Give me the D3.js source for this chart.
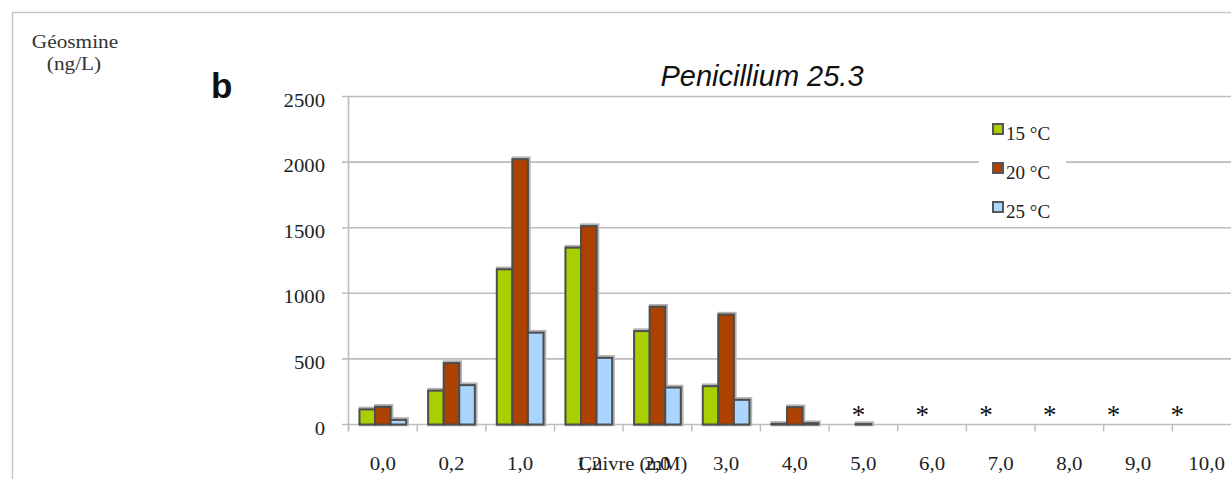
<!DOCTYPE html>
<html><head><meta charset="utf-8">
<script src="https://cdn.jsdelivr.net/npm/d3@7"></script>
<style>body{margin:0;background:#fff;overflow:hidden}</style>
</head><body><svg id="c" width="1231" height="479"></svg>
<script>
const categories = ["0,0","0,2","1,0","1,2","2,0","3,0","4,0","5,0","6,0","7,0","8,0","9,0","10,0"];
const seriesNames = ["15 °C","20 °C","25 °C"];
const values15 = [115,258,1183,1348,712,292,5,0,0,0,0,0,0];
const values20 = [135,468,2022,1512,898,838,132,3,0,0,0,0,0];
const values25 = [35,300,700,508,282,188,10,0,0,0,0,0,0];
const yTicks = [0,500,1000,1500,2000,2500];
const asteriskCats = ["5,0","6,0","7,0","8,0","9,0","10,0"];
const seriesColors = ["#a8d000","#ad4200","#a9d5ff"];

(function(){
const svg = d3.select("#c");
const W = 1231, H = 479;
const pLeft = 348.5, pTop = 96.5, pBottom = 424.5, pRight = 1241;
const serif = "'Liberation Serif','Times New Roman',serif";
const sans = "'Liberation Sans',Arial,sans-serif";

function stretch(sel, k){
  sel.each(function(){
    const w = this.getComputedTextLength();
    d3.select(this).attr("textLength", w*k).attr("lengthAdjust","spacingAndGlyphs");
  });
}

const x = d3.scaleBand().domain(categories).range([pLeft, pRight]).paddingInner(0).paddingOuter(0);
const bw = x.bandwidth();
const xs = d3.scaleBand().domain(seriesNames).range([bw*0.16, bw*0.84]);
const y = d3.scaleLinear().domain([0,2500]).range([pBottom, pTop]);

// frame
svg.append("line").attr("x1",12).attr("x2",W).attr("y1",12.5).attr("y2",12.5).attr("stroke","#c6c6c6").attr("stroke-width",1.5);
svg.append("line").attr("x1",12.5).attr("x2",12.5).attr("y1",12).attr("y2",H).attr("stroke","#c6c6c6").attr("stroke-width",1.5);

// gridlines
svg.append("g").selectAll("line").data(yTicks).join("line")
  .attr("x1", pLeft-6.5).attr("x2", W)
  .attr("y1", d=>y(d)).attr("y2", d=>y(d))
  .attr("stroke","#bdbdbd").attr("stroke-width",1.6);
// y axis line
svg.append("line").attr("x1",pLeft).attr("x2",pLeft).attr("y1",pTop).attr("y2",pBottom+7)
  .attr("stroke","#bdbdbd").attr("stroke-width",1.6);
// y tick labels
stretch(svg.append("g").selectAll("text").data(yTicks).join("text")
  .attr("x",325).attr("y",d=>y(d)+10).attr("text-anchor","end")
  .attr("font-family",serif).attr("font-size",18).attr("fill","#222")
  .text(d=>d), 1.15);

// bottom ticks
const bounds = categories.map(c=>x(c)).concat([pRight]);
svg.append("g").selectAll("line").data(bounds).join("line")
  .attr("x1",d=>d).attr("x2",d=>d).attr("y1",pBottom).attr("y2",pBottom+7)
  .attr("stroke","#bdbdbd").attr("stroke-width",1.4);
// x labels
stretch(svg.append("g").selectAll("text").data(categories).join("text")
  .attr("x",d=>x(d)+bw/2).attr("y",470).attr("text-anchor","middle")
  .attr("font-family",serif).attr("font-size",19).attr("fill","#222")
  .text(d=>d), 1.1);

// bars
const allVals = [values15, values20, values25];
const barData = [];
categories.forEach((c,i)=>seriesNames.forEach((s,j)=>barData.push({c,s,j,v:allVals[j][i]})));
const bars = barData.filter(d=>d.v>0);
svg.append("g").selectAll("rect").data(bars).join("rect")
  .attr("x",d=>x(d.c)+xs(d.s)+1).attr("y",d=>y(d.v)-1)
  .attr("width",xs.bandwidth()).attr("height",d=>pBottom-y(d.v)+1)
  .attr("fill","none").attr("stroke","#b3b3b3").attr("stroke-width",3.5);
svg.append("g").selectAll("rect").data(bars).join("rect")
  .attr("x",d=>x(d.c)+xs(d.s)).attr("y",d=>y(d.v))
  .attr("width",xs.bandwidth()).attr("height",d=>pBottom-y(d.v))
  .attr("fill",d=>seriesColors[d.j]).attr("stroke","#4d4d4d").attr("stroke-width",2);

// asterisks
const xa = d3.scalePoint().domain(asteriskCats)
  .range([x(asteriskCats[0])+bw*0.43, x(asteriskCats[asteriskCats.length-1])+bw*0.07]);
svg.append("g").selectAll("text").data(asteriskCats).join("text")
  .attr("x",d=>xa(d)).attr("y",424).attr("text-anchor","middle")
  .attr("font-family",serif).attr("font-size",27).attr("fill","#111")
  .text("*");

// axis title
stretch(svg.append("text").attr("x",633).attr("y",470).attr("text-anchor","middle")
  .attr("font-family",serif).attr("font-size",19).attr("fill","#222").text("Cuivre (mM)"), 1.08);

// legend
const lg = svg.append("g");
lg.append("rect").attr("x",979).attr("y",112).attr("width",87).attr("height",110).attr("fill","#fff");
seriesNames.forEach((s,j)=>{
  const ly = 124 + j*39;
  lg.append("rect").attr("x",993).attr("y",ly).attr("width",10).attr("height",10)
    .attr("fill",seriesColors[j]).attr("stroke","#555").attr("stroke-width",2);
  stretch(lg.append("text").attr("x",1006).attr("y",ly+16).attr("font-family",serif).attr("font-size",18)
    .attr("fill","#222").text(s), 1.06);
});

// titles
svg.append("text").attr("x",762).attr("y",86).attr("text-anchor","middle")
  .attr("font-family",sans).attr("font-style","italic").attr("font-size",29).attr("fill","#111")
  .text("Penicillium 25.3");
svg.append("text").attr("x",211).attr("y",98).attr("font-family",sans).attr("font-weight","bold")
  .attr("font-size",35).attr("fill","#111").text("b");
stretch(svg.append("text").attr("x",75).attr("y",48).attr("text-anchor","middle")
  .attr("font-family",serif).attr("font-size",19).attr("fill","#333").text("Géosmine"), 1.12);
stretch(svg.append("text").attr("x",74).attr("y",70).attr("text-anchor","middle")
  .attr("font-family",serif).attr("font-size",19).attr("fill","#333").text("(ng/L)"), 1.12);
})();
</script></body></html>
